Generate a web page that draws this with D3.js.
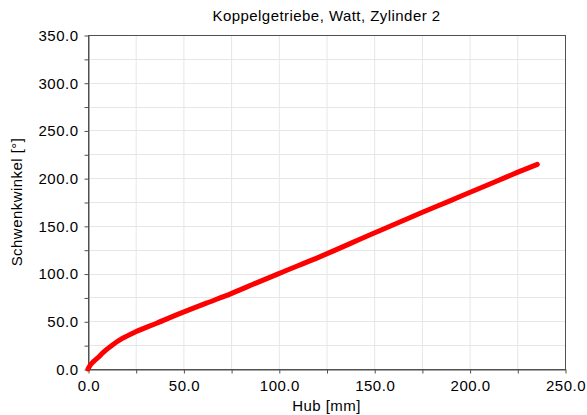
<!DOCTYPE html>
<html>
<head>
<meta charset="utf-8">
<script src="https://cdn.jsdelivr.net/npm/d3@7"></script>
<style>
  body { margin: 0; background: #fff; }
  text { font-family: "Liberation Sans", Arial, sans-serif; fill: #000; }
</style>
</head>
<body>
<div id="svg-area"></div>
<script>
// Hub [mm] vs. Schwenkwinkel [deg]
var hub    = [0, 1, 3, 5, 8, 13, 18, 25, 36, 48, 62, 75, 88, 100, 122, 150, 175, 190, 200, 215, 225, 235.5];
var winkel = [0, 3.5, 8, 11.5, 17.5, 25.5, 32, 39, 48, 58, 69, 79, 90, 100, 118, 142.5, 164, 176.5, 185, 197.5, 206, 214.5];

var xTicks = [0, 50, 100, 150, 200, 250];
var yTicks = [0, 50, 100, 150, 200, 250, 300, 350];

var titleText = "Koppelgetriebe, Watt, Zylinder 2";
var xLabel = "Hub [mm]";
var yLabel = "Schwenkwinkel [°]";

var svgWidth = 587;
var svgHeight = 415;

var chartMargin = { top: 35, right: 22, bottom: 46, left: 88 };
var chartWidth = svgWidth - chartMargin.left - chartMargin.right;
var chartHeight = svgHeight - chartMargin.top - chartMargin.bottom;

var svg = d3.select("#svg-area")
  .append("svg")
  .attr("width", svgWidth)
  .attr("height", svgHeight);

var chartGroup = svg.append("g")
  .attr("transform", `translate(${chartMargin.left}, ${chartMargin.top})`);

var xScale = d3.scaleLinear().domain([0, 250]).range([0, chartWidth]);
var yScale = d3.scaleLinear().domain([0, 350]).range([chartHeight, 0]);

// grid every 25
var gridX = d3.range(25, 250, 25);
var gridY = d3.range(25, 350, 25);

chartGroup.selectAll(".gx")
  .data(gridX)
  .enter()
  .append("line")
  .attr("x1", d => xScale(d) + 0.5)
  .attr("x2", d => xScale(d) + 0.5)
  .attr("y1", 0)
  .attr("y2", chartHeight)
  .attr("stroke", "#e6e6e6")
  .attr("stroke-width", 1);

chartGroup.selectAll(".gy")
  .data(gridY)
  .enter()
  .append("line")
  .attr("y1", d => Math.round(yScale(d)) + 0.5)
  .attr("y2", d => Math.round(yScale(d)) + 0.5)
  .attr("x1", 0)
  .attr("x2", chartWidth)
  .attr("stroke", "#e6e6e6")
  .attr("stroke-width", 1);

// frame
chartGroup.append("rect")
  .attr("x", 0.5)
  .attr("y", 0.5)
  .attr("width", chartWidth)
  .attr("height", chartHeight)
  .attr("fill", "none")
  .attr("stroke", "#505050")
  .attr("stroke-width", 1);

// axes: minor ticks every 25, labels every 50
var bottomAxis = d3.axisBottom(xScale)
  .tickValues(d3.range(0, 251, 25))
  .tickSize(4)
  .tickSizeOuter(0)
  .tickPadding(7)
  .tickFormat(d => xTicks.includes(d) ? d3.format(".1f")(d) : "");

var leftAxis = d3.axisLeft(yScale)
  .tickValues(d3.range(0, 351, 25))
  .tickSize(4)
  .tickSizeOuter(0)
  .tickPadding(6)
  .tickFormat(d => yTicks.includes(d) ? d3.format(".1f")(d) : "");

var gx = chartGroup.append("g")
  .attr("transform", `translate(0.5, ${chartHeight + 0.5})`)
  .call(bottomAxis);

var gy = chartGroup.append("g")
  .attr("transform", "translate(0.5, 0.5)")
  .call(leftAxis);

[gx, gy].forEach(function(g) {
  g.select(".domain").attr("stroke", "#505050");
  g.selectAll(".tick line").attr("stroke", "#505050");
  g.selectAll(".tick text")
    .style("font-size", "15px")
    .style("letter-spacing", "0.5px")
    .attr("fill", "#000");
});

// data line
var points = hub.map((h, i) => [h, winkel[i]]);

var line = d3.line()
  .x(d => xScale(d[0]))
  .y(d => yScale(d[1]))
  .curve(d3.curveMonotoneX);

chartGroup.append("path")
  .datum(points)
  .attr("d", line)
  .attr("fill", "none")
  .attr("stroke", "#ff0000")
  .attr("stroke-width", 5)
  .attr("stroke-linecap", "round")
  .attr("stroke-linejoin", "round");

// title and labels
svg.append("text")
  .attr("x", chartMargin.left + chartWidth / 2)
  .attr("y", 21)
  .attr("text-anchor", "middle")
  .style("font-size", "15px")
  .style("letter-spacing", "0.45px")
  .text(titleText);

svg.append("text")
  .attr("x", chartMargin.left + chartWidth / 2)
  .attr("y", 411)
  .attr("text-anchor", "middle")
  .style("font-size", "15px")
  .style("letter-spacing", "0.45px")
  .text(xLabel);

svg.append("text")
  .attr("transform", `translate(22, ${chartMargin.top + chartHeight / 2}) rotate(-90)`)
  .attr("text-anchor", "middle")
  .style("font-size", "15px")
  .style("letter-spacing", "0.45px")
  .text(yLabel);
</script>
</body>
</html>
